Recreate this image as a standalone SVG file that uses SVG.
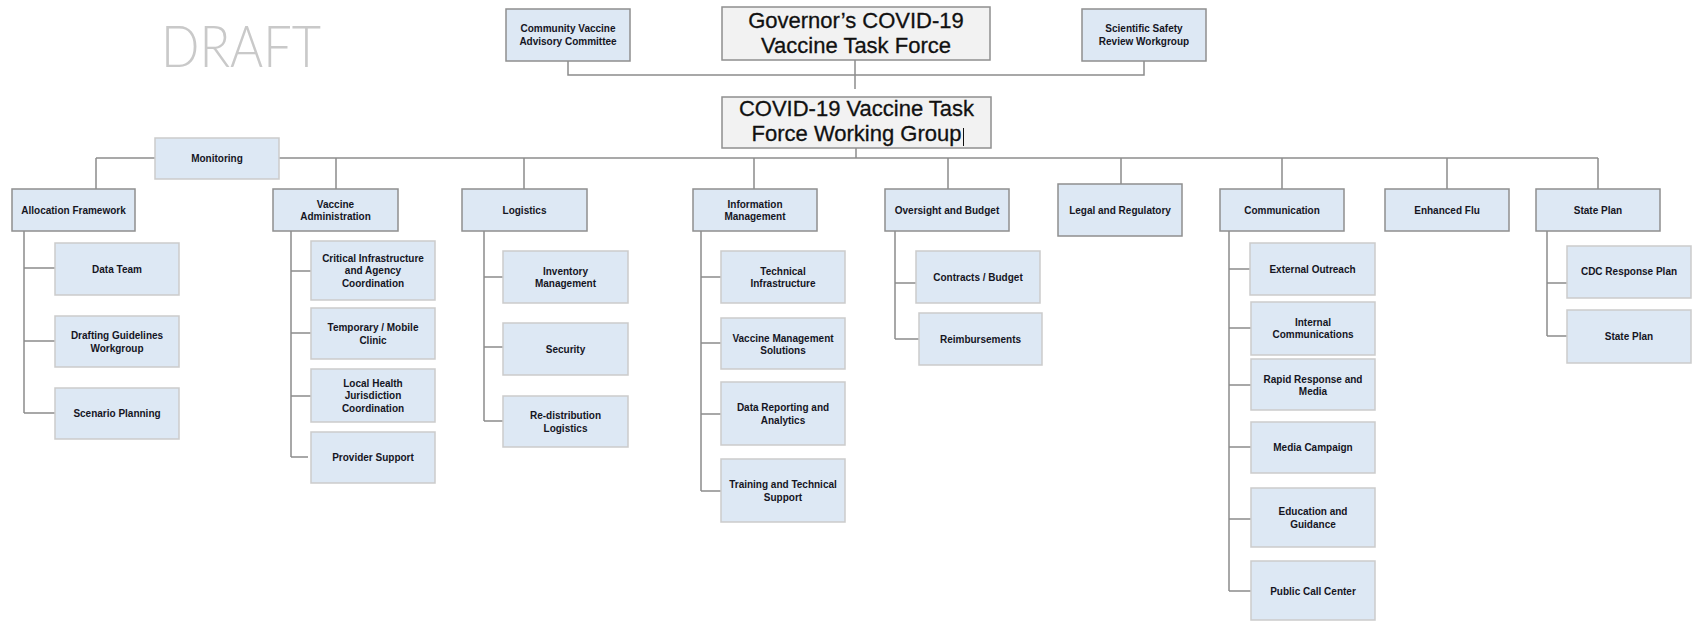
<svg xmlns="http://www.w3.org/2000/svg" width="1692" height="621" viewBox="0 0 1692 621">
<style>
.box{fill:#dde8f4;stroke:#8f8f8f;stroke-width:1.5}
.sub{fill:#dde8f4;stroke:#cbcbcb;stroke-width:1.5}
.top{fill:#f2f2f2;stroke:#8f8f8f;stroke-width:1.5}
.t{font-family:"Liberation Sans",Arial,sans-serif;font-size:10px;font-weight:bold;fill:#15151f;text-anchor:middle}
.big{font-family:"Liberation Sans",Arial,sans-serif;font-size:22px;fill:#111111;stroke:#111111;stroke-width:0.3;text-anchor:middle}
.draft{font-family:Lato,"Liberation Sans",sans-serif;font-weight:300;font-size:57px;fill:#c9c9c9}
#connectors path{fill:none;stroke:#8c8c8c;stroke-width:1.5}
</style>
<rect width="1692" height="621" fill="#ffffff"/>
<text class="draft" x="161" y="67" textLength="160" lengthAdjust="spacingAndGlyphs">DRAFT</text>

<g id="connectors">
<path d="M568,61 V75 H1144 V61"/>
<path d="M855,60 V89"/>
<path d="M856,148 V158"/>
<path d="M96,158 H1598"/>
<path d="M96,158 V189 M336,158 V189 M524,158 V189 M754,158 V189 M948,158 V189 M1121,158 V184 M1282,158 V189 M1447,158 V189 M1598,158 V189"/>
<path d="M24,231 V413 M24,268 H55 M24,341 H55 M24,413 H55"/>
<path d="M291,231 V457 M291,271 H311 M291,333 H311 M291,396 H311 M291,457 H308"/>
<path d="M484,231 V421 M484,277 H503 M484,347 H503 M484,421 H503"/>
<path d="M701,231 V491 M701,277 H721 M701,343 H721 M701,414 H721 M701,491 H721"/>
<path d="M895,231 V339 M895,283 H916 M895,339 H919"/>
<path d="M1229,231 V591 M1229,269 H1250 M1229,328 H1251 M1229,385 H1251 M1229,447 H1251 M1229,519 H1251 M1229,591 H1251"/>
<path d="M1547,231 V336 M1547,283 H1567 M1547,336 H1567"/>
</g>

<g id="community">
<rect class="box" x="506" y="9" width="124" height="52"/>
<text class="t" x="568" y="31.5">Community Vaccine</text>
<text class="t" x="568" y="45">Advisory Committee</text>
</g>
<g id="governor">
<rect class="top" x="722" y="7" width="268" height="53"/>
<text class="big" x="856" y="28">Governor’s COVID-19</text>
<text class="big" x="856" y="53">Vaccine Task Force</text>
</g>
<g id="scientific">
<rect class="box" x="1082" y="9" width="124" height="52"/>
<text class="t" x="1144" y="31.5">Scientific Safety</text>
<text class="t" x="1144" y="45">Review Workgroup</text>
</g>
<g id="working-group">
<rect class="top" x="722" y="97" width="269" height="51"/>
<text class="big" x="856.5" y="116">COVID-19 Vaccine Task</text>
<text class="big" x="856.5" y="141">Force Working Group</text>
<line x1="963.5" y1="128" x2="963.5" y2="146" stroke="#111111" stroke-width="1"/>
</g>

<g id="monitoring">
<rect class="sub" x="155" y="138" width="124" height="41"/>
<text class="t" x="217" y="161.5">Monitoring</text>
</g>

<g id="allocation">
<rect class="box" x="12" y="189" width="123" height="42"/>
<text class="t" x="73.5" y="213.5">Allocation Framework</text>
</g>
<g id="data-team">
<rect class="sub" x="55" y="243" width="124" height="52"/>
<text class="t" x="117" y="272.5">Data Team</text>
</g>
<g id="drafting">
<rect class="sub" x="55" y="316" width="124" height="51"/>
<text class="t" x="117" y="339">Drafting Guidelines</text>
<text class="t" x="117" y="351.5">Workgroup</text>
</g>
<g id="scenario">
<rect class="sub" x="55" y="388" width="124" height="51"/>
<text class="t" x="117" y="417">Scenario Planning</text>
</g>

<g id="vaccine-admin">
<rect class="box" x="273" y="189" width="125" height="42"/>
<text class="t" x="335.5" y="207.5">Vaccine</text>
<text class="t" x="335.5" y="219.5">Administration</text>
</g>
<g id="critical">
<rect class="sub" x="311" y="241" width="124" height="59"/>
<text class="t" x="373" y="261.5">Critical Infrastructure</text>
<text class="t" x="373" y="274">and Agency</text>
<text class="t" x="373" y="286.5">Coordination</text>
</g>
<g id="temporary">
<rect class="sub" x="311" y="308" width="124" height="51"/>
<text class="t" x="373" y="331">Temporary / Mobile</text>
<text class="t" x="373" y="343.5">Clinic</text>
</g>
<g id="local-health">
<rect class="sub" x="311" y="369" width="124" height="53"/>
<text class="t" x="373" y="386.5">Local Health</text>
<text class="t" x="373" y="399">Jurisdiction</text>
<text class="t" x="373" y="411.5">Coordination</text>
</g>
<g id="provider">
<rect class="sub" x="311" y="432" width="124" height="51"/>
<text class="t" x="373" y="461">Provider Support</text>
</g>

<g id="logistics">
<rect class="box" x="462" y="189" width="125" height="42"/>
<text class="t" x="524.5" y="213.5">Logistics</text>
</g>
<g id="inventory">
<rect class="sub" x="503" y="251" width="125" height="52"/>
<text class="t" x="565.5" y="274.5">Inventory</text>
<text class="t" x="565.5" y="287">Management</text>
</g>
<g id="security">
<rect class="sub" x="503" y="323" width="125" height="52"/>
<text class="t" x="565.5" y="352.5">Security</text>
</g>
<g id="redistribution">
<rect class="sub" x="503" y="396" width="125" height="51"/>
<text class="t" x="565.5" y="419">Re-distribution</text>
<text class="t" x="565.5" y="431.5">Logistics</text>
</g>

<g id="info-mgmt">
<rect class="box" x="693" y="189" width="124" height="42"/>
<text class="t" x="755" y="207.5">Information</text>
<text class="t" x="755" y="219.5">Management</text>
</g>
<g id="technical-infra">
<rect class="sub" x="721" y="251" width="124" height="52"/>
<text class="t" x="783" y="274.5">Technical</text>
<text class="t" x="783" y="287">Infrastructure</text>
</g>
<g id="vms">
<rect class="sub" x="721" y="318" width="124" height="51"/>
<text class="t" x="783" y="341.5">Vaccine Management</text>
<text class="t" x="783" y="354">Solutions</text>
</g>
<g id="data-reporting">
<rect class="sub" x="721" y="382" width="124" height="63"/>
<text class="t" x="783" y="411">Data Reporting and</text>
<text class="t" x="783" y="423.5">Analytics</text>
</g>
<g id="training">
<rect class="sub" x="721" y="459" width="124" height="63"/>
<text class="t" x="783" y="488">Training and Technical</text>
<text class="t" x="783" y="500.5">Support</text>
</g>

<g id="oversight">
<rect class="box" x="885" y="189" width="124" height="42"/>
<text class="t" x="947" y="213.5">Oversight and Budget</text>
</g>
<g id="contracts">
<rect class="sub" x="916" y="251" width="124" height="52"/>
<text class="t" x="978" y="280.5">Contracts / Budget</text>
</g>
<g id="reimbursements">
<rect class="sub" x="919" y="313" width="123" height="52"/>
<text class="t" x="980.5" y="342.5">Reimbursements</text>
</g>

<g id="legal">
<rect class="box" x="1058" y="184" width="124" height="52"/>
<text class="t" x="1120" y="213.5">Legal and Regulatory</text>
</g>

<g id="communication">
<rect class="box" x="1220" y="189" width="124" height="42"/>
<text class="t" x="1282" y="213.5">Communication</text>
</g>
<g id="external">
<rect class="sub" x="1250" y="243" width="125" height="52"/>
<text class="t" x="1312.5" y="272.5">External Outreach</text>
</g>
<g id="internal">
<rect class="sub" x="1251" y="302" width="124" height="53"/>
<text class="t" x="1313" y="325.5">Internal</text>
<text class="t" x="1313" y="338">Communications</text>
</g>
<g id="rapid">
<rect class="sub" x="1251" y="359" width="124" height="51"/>
<text class="t" x="1313" y="382.5">Rapid Response and</text>
<text class="t" x="1313" y="395">Media</text>
</g>
<g id="media-campaign">
<rect class="sub" x="1251" y="422" width="124" height="51"/>
<text class="t" x="1313" y="451">Media Campaign</text>
</g>
<g id="education">
<rect class="sub" x="1251" y="488" width="124" height="59"/>
<text class="t" x="1313" y="515">Education and</text>
<text class="t" x="1313" y="527.5">Guidance</text>
</g>
<g id="public-call">
<rect class="sub" x="1251" y="561" width="124" height="59"/>
<text class="t" x="1313" y="594.5">Public Call Center</text>
</g>

<g id="enhanced-flu">
<rect class="box" x="1385" y="189" width="124" height="42"/>
<text class="t" x="1447" y="213.5">Enhanced Flu</text>
</g>

<g id="state-plan">
<rect class="box" x="1536" y="189" width="124" height="42"/>
<text class="t" x="1598" y="213.5">State Plan</text>
</g>
<g id="cdc-response">
<rect class="sub" x="1567" y="246" width="124" height="52"/>
<text class="t" x="1629" y="275">CDC Response Plan</text>
</g>
<g id="state-plan-child">
<rect class="sub" x="1567" y="310" width="124" height="53"/>
<text class="t" x="1629" y="339.5">State Plan</text>
</g>
</svg>
